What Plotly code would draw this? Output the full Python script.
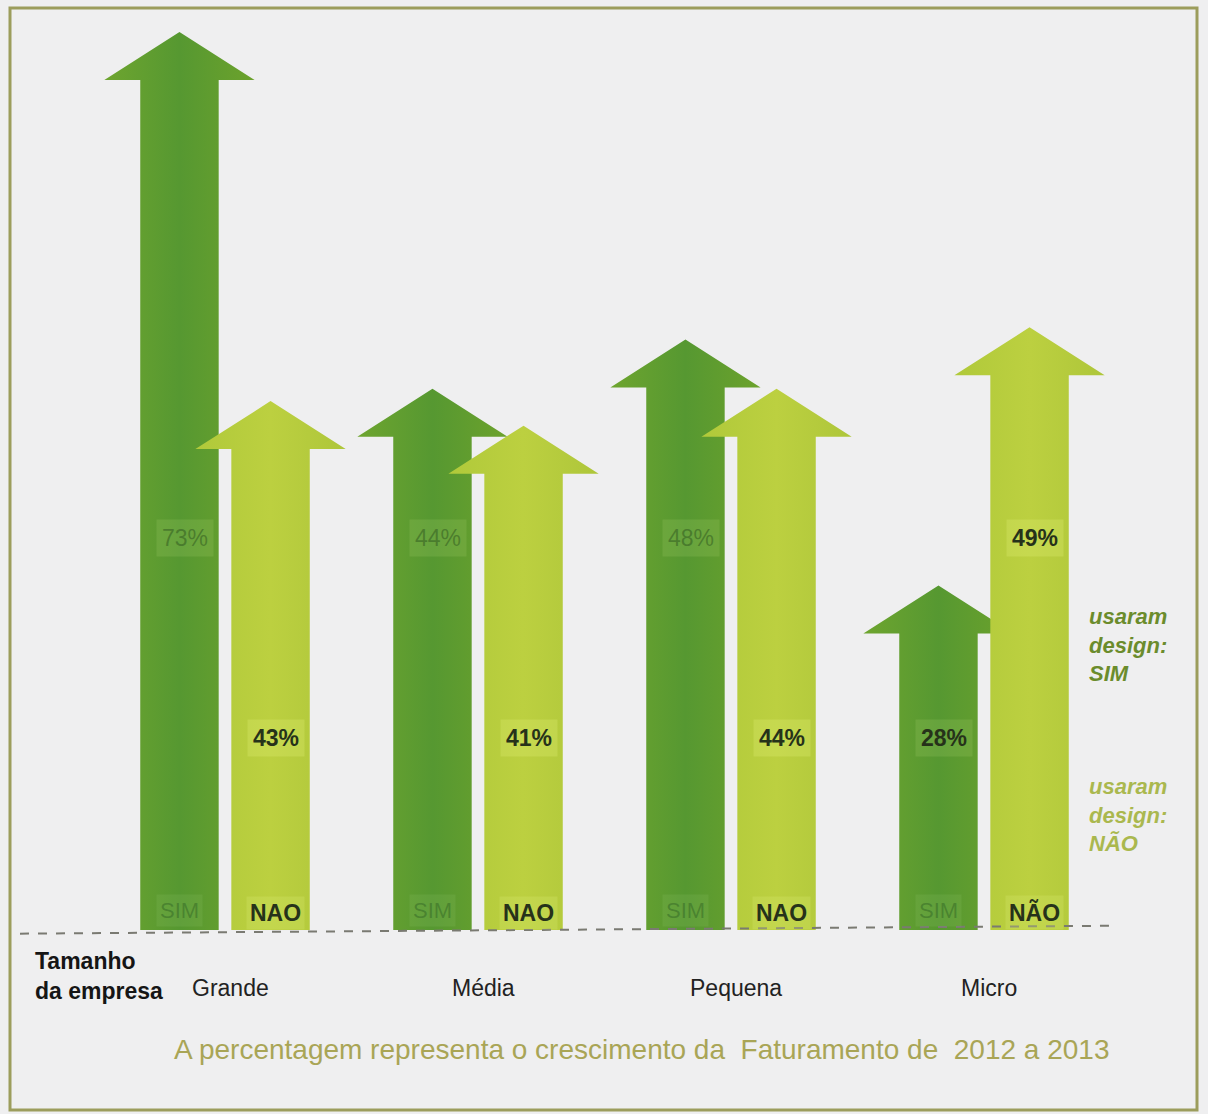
import plotly.graph_objects as go

# Company size groups and revenue growth 2012-2013 (%)
categories = ["Grande", "Média", "Pequena", "Micro"]
sim_values = [73, 44, 48, 28]
nao_values = [43, 41, 44, 49]
nao_tags = ["NAO", "NAO", "NAO", "NÃO"]

W, H = 1208, 1114
PX_PER_PCT = 12.3
BASE_PX = 930
PX_PER_GROUP = 253
GROUP0_PX = 225

x_range = [-GROUP0_PX / PX_PER_GROUP, (W - GROUP0_PX) / PX_PER_GROUP]
y_range = [-(H - BASE_PX) / PX_PER_PCT, BASE_PX / PX_PER_PCT]

OFFSET = 0.18        # distance of each arrow from its group centre
SHAFT = 0.155        # half width of the arrow shaft
HEAD = 0.297         # half width of the arrow head
HEAD_H = 3.9         # arrow head height, in percentage points

SIM_GRAD = [[0, "#6ea52f"], [0.5, "#569831"], [1, "#6ca22c"]]
NAO_GRAD = [[0, "#b0c93a"], [0.5, "#bcd040"], [1, "#aec63a"]]


def arrow(cx, v):
    xs = [cx - SHAFT, cx - SHAFT, cx - HEAD, cx, cx + HEAD, cx + SHAFT, cx + SHAFT, cx - SHAFT]
    ys = [0, v - HEAD_H, v - HEAD_H, v, v - HEAD_H, v - HEAD_H, 0, 0]
    return xs, ys


fig = go.Figure()

for i, cat in enumerate(categories):
    for cx, v, grad in ((i - OFFSET, sim_values[i], SIM_GRAD), (i + OFFSET, nao_values[i], NAO_GRAD)):
        xs, ys = arrow(cx, v)
        fig.add_trace(go.Scatter(
            x=xs, y=ys, mode="lines", fill="toself",
            line=dict(width=0, color="rgba(0,0,0,0)"),
            fillgradient=dict(type="horizontal", colorscale=grad),
            hoverinfo="skip", showlegend=False,
        ))

# Baseline
fig.add_trace(go.Scatter(
    x=[x_range[0] + 20 / PX_PER_GROUP, x_range[0] + 1118 / PX_PER_GROUP], y=[-0.3, 0.35],
    mode="lines", line=dict(color="#7a7a72", width=2, dash="dash"),
    hoverinfo="skip", showlegend=False,
))

annotations = []
FONT = "Liberation Sans, Arial, sans-serif"
UPPER_Y, LOWER_Y = 31.9, 15.6

for i, cat in enumerate(categories):
    sx, nx = i - OFFSET, i + OFFSET
    sim_top = sim_values[i] >= nao_values[i]
    # percentage labels: the taller arrow of each pair carries its label higher up
    for cx, v, glow, is_sim, upper in ((sx, sim_values[i], "rgba(170,210,110,0.2)", True, sim_top),
                                       (nx, nao_values[i], "rgba(225,240,120,0.28)", False, not sim_top)):
        faint = is_sim and i < 3
        annotations.append(dict(
            x=cx + 0.02, y=UPPER_Y if upper else LOWER_Y, xref="x", yref="y", text=f"{v}%",
            showarrow=False, bgcolor=glow, borderpad=5,
            font=dict(family=FONT, size=23,
                      color="rgba(45,85,30,0.5)" if faint else "#26321a",
                      weight="normal" if faint else "bold"),
        ))
    # SIM / NAO tags at the foot of each arrow
    annotations.append(dict(
        x=sx, y=1.6, xref="x", yref="y", text="SIM", showarrow=False,
        bgcolor="rgba(150,200,110,0.16)", borderpad=3,
        font=dict(family=FONT, size=22, color="rgba(45,95,35,0.45)"),
    ))
    annotations.append(dict(
        x=nx + 0.02, y=1.4, xref="x", yref="y", text=nao_tags[i], showarrow=False,
        bgcolor="rgba(215,235,110,0.28)", borderpad=3,
        font=dict(family=FONT, size=23, color="#26321a", weight="bold"),
    ))
    # category name
    annotations.append(dict(
        x=i + 0.02, y=-4.75, xref="x", yref="y", text=cat, showarrow=False,
        font=dict(family=FONT, size=23, color="#222222"),
    ))

annotations += [
    dict(x=33 / W, y=1 - 976 / H, xref="paper", yref="paper", xanchor="left", yanchor="middle",
         text="Tamanho<br>da empresa", showarrow=False, align="left",
         font=dict(family=FONT, size=23, color="#151515", weight="bold")),
    dict(x=1087 / W, y=1 - 645 / H, xref="paper", yref="paper", xanchor="left", yanchor="middle",
         text="<i>usaram<br>design:<br>SIM</i>", showarrow=False, align="left",
         font=dict(family=FONT, size=22, color="#6b8c2c", weight="bold")),
    dict(x=1087 / W, y=1 - 815 / H, xref="paper", yref="paper", xanchor="left", yanchor="middle",
         text="<i>usaram<br>design:<br>NÃO</i>", showarrow=False, align="left",
         font=dict(family=FONT, size=22, color="#aab84e", weight="bold")),
    dict(x=641 / W, y=1 - 1049 / H, xref="paper", yref="paper", yanchor="middle",
         text="A percentagem representa o crescimento da  Faturamento de  2012 a 2013",
         showarrow=False, font=dict(family=FONT, size=28, color="#a9a556")),
]

fig.update_layout(
    width=W, height=H,
    margin=dict(l=0, r=0, t=0, b=0),
    paper_bgcolor="#efeff0", plot_bgcolor="#efeff0",
    xaxis=dict(range=x_range, visible=False, fixedrange=True),
    yaxis=dict(range=y_range, visible=False, fixedrange=True),
    annotations=annotations,
    shapes=[dict(type="rect", xref="paper", yref="paper",
                 x0=10 / W, x1=1197 / W, y0=1 - 1110 / H, y1=1 - 8 / H,
                 line=dict(color="#9c9d5c", width=3), fillcolor="rgba(0,0,0,0)", layer="below")],
)

fig.write_html("out.html")
